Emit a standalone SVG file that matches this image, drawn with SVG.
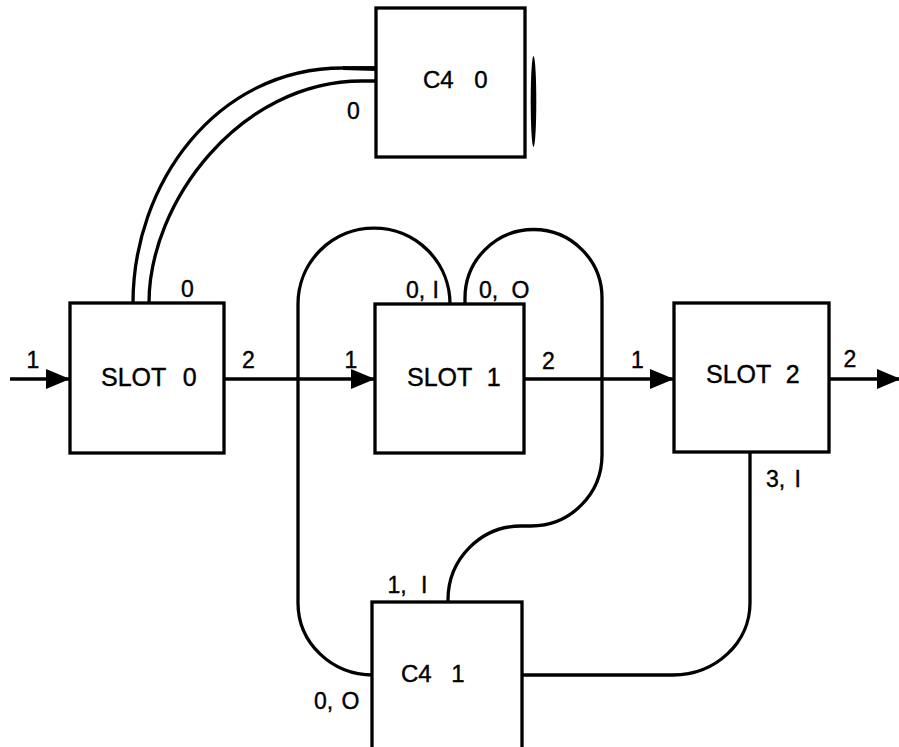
<svg xmlns="http://www.w3.org/2000/svg" width="899" height="747" viewBox="0 0 899 747">
  <style>
    .box { fill: #ffffff; stroke: #000000; stroke-width: 3.3; }
    .wire { fill: none; stroke: #000000; stroke-width: 3.3; }
    .name { font-family: "Liberation Sans", Arial, sans-serif; font-size: 25px; fill: #000000; stroke: #000000; stroke-width: 0.4; }
    .port { font-family: "Liberation Sans", Arial, sans-serif; font-size: 23px; fill: #000000; stroke: #000000; stroke-width: 0.4; }
    .mid { text-anchor: middle; }
  </style>
  <defs>
    <marker id="arrow" markerUnits="userSpaceOnUse" markerWidth="25" markerHeight="22" refX="24" refY="11" orient="auto">
      <path d="M0,1 L24,11 L0,21 Z" fill="#000000"/>
    </marker>
  </defs>

  <rect width="899" height="747" fill="#ffffff"/>

  <!-- connectors -->
  <g id="connectors">
    <!-- signal path through the slots -->
    <path class="wire" d="M10,379 L70,379" marker-end="url(#arrow)"/>
    <path class="wire" d="M224,379 L375,379" marker-end="url(#arrow)"/>
    <path class="wire" d="M524,379 L674,379" marker-end="url(#arrow)"/>
    <path class="wire" d="M829,379 L901,379" marker-end="url(#arrow)"/>
    <!-- double line from SLOT 0 to C4 0 -->
    <path class="wire" d="M133,303 C133,185 215,68 343,68 L376,68"/>
    <path class="wire" d="M149,303 C149,202 240,81 362,81 L376,81"/>
    <path d="M343,66.3 L376,66.3 L376,71 L343,70 Z" fill="#000000"/>
    <!-- left loop: SLOT 1 (0,I) to C4 1 (0,O) -->
    <path class="wire" d="M450,304 A76,76 0 0 0 298,304 L298,603 A75,72 0 0 0 373,675"/>
    <!-- right loop: SLOT 1 (0,O) to C4 1 (1,I) -->
    <path class="wire" d="M465,304 L465,298 A68.5,68.5 0 0 1 602,298 L602,455 A71,71 0 0 1 531,526 L521,526 A73,74 0 0 0 448,600 L448,602"/>
    <!-- SLOT 2 (3,I) to C4 1 -->
    <path class="wire" d="M750,452 L750,603 A77,72 0 0 1 673,675 L522,675"/>
  </g>

  <g id="c4-0">
    <rect class="box" x="376" y="8" width="149" height="149"/>
    <ellipse cx="533.5" cy="101.5" rx="2.8" ry="45.5" fill="#000000"/>
    <text class="name" x="423" y="88" style="font-size:24px" word-spacing="14">C4 0</text>
    <text class="port mid" x="353.5" y="119">0</text>
  </g>

  <g id="slot-0">
    <rect class="box" x="70" y="303" width="154" height="150"/>
    <text class="name" x="101" y="386" word-spacing="10">SLOT 0</text>
    <text class="port mid" x="33" y="368">1</text>
    <text class="port mid" x="187.5" y="297">0</text>
    <text class="port mid" x="248.5" y="368">2</text>
  </g>

  <g id="slot-1">
    <rect class="box" x="375" y="304" width="149" height="149"/>
    <text class="name" x="407" y="386" word-spacing="8">SLOT 1</text>
    <text class="port mid" x="351" y="368">1</text>
    <text class="port" x="406" y="298" word-spacing="1">0, I</text>
    <text class="port" x="479" y="298" word-spacing="7">0, O</text>
    <text class="port mid" x="548.5" y="369">2</text>
  </g>

  <g id="slot-2">
    <rect class="box" x="674" y="303" width="155" height="149"/>
    <text class="name" x="706" y="383" word-spacing="8">SLOT 2</text>
    <text class="port mid" x="637.5" y="368">1</text>
    <text class="port mid" x="850" y="367">2</text>
    <text class="port" x="766" y="487" word-spacing="3">3, I</text>
  </g>

  <g id="c4-1">
    <rect class="box" x="372" y="602" width="150" height="160"/>
    <text class="name" x="401" y="682" style="font-size:24px" word-spacing="13">C4 1</text>
    <text class="port" x="387.5" y="593" word-spacing="8">1, I</text>
    <text class="port" x="314" y="709" word-spacing="2">0, O</text>
  </g>
</svg>
